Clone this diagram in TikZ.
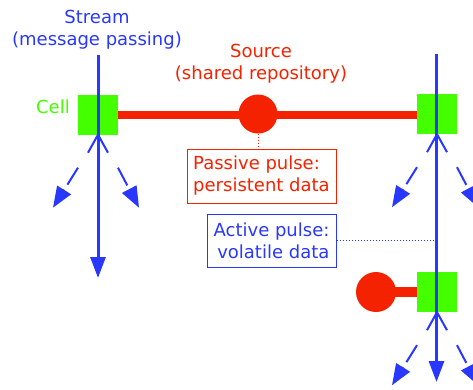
\documentclass[tikz,border=0pt]{standalone}
\usepackage{fontspec}
\setmainfont{DejaVu Sans}
\usetikzlibrary{arrows.meta}
\definecolor{sblue}{RGB}{40,56,255}
\definecolor{sred}{RGB}{245,34,0}
\definecolor{sgreen}{RGB}{68,255,0}
\begin{document}
\begin{tikzpicture}[x=1pt,y=-1pt,
  lbl/.style={font=\fontsize{18}{22}\selectfont, inner sep=0pt, align=center},
  cellbox/.style={fill=sgreen, draw=none, minimum size=40pt, inner sep=0pt},
  pulse/.style={circle, fill=sred, draw=none, minimum size=39pt, inner sep=0pt},
  redbar/.style={draw=sred, line width=8pt},
  stream/.style={draw=sblue, line width=3pt, -{Triangle[length=21pt,width=15pt]}},
  chev/.style={draw=sblue, line width=2pt},
  spread/.style={draw=sblue, line width=2pt, dash pattern=on 20pt off 6pt, -{Triangle[length=21pt,width=16pt]}},
  tagbox/.style={draw, line width=1pt, font=\fontsize{18}{22}\selectfont, inner sep=0pt},
  link/.style={line width=1pt, dash pattern=on 1pt off 2pt}
]
\useasboundingbox (0,0) rectangle (473,389);

% labels
\node[lbl, text=sblue] (streamlbl) at (97,29.5) {Stream\\(message passing)};
\node[lbl, text=sred] (sourcelbl) at (261,63.5) {Source\\(shared repository)};

% cells and pulses
\node[cellbox] (cellL) at (98,114.5) {};
\node[cellbox] (cellR) at (437,114) {};
\node[cellbox] (cellR2) at (437,292) {};
\node[lbl, text=sgreen] (celllbl) at (53,107) {Cell};

\node[pulse] (srcC) at (258,114) {};
\node[pulse, minimum size=40pt] (pulseC) at (376,292) {};

\draw[redbar] (cellL.east) -- (cellL.east -| cellR.west);
\draw[redbar, line width=10pt] (pulseC.center) -- (cellR2.west);

% tag boxes
\node[tagbox, draw=sred, text=sred, align=left, minimum width=149pt, minimum height=54pt] (passive) at (261.5,176) {Passive pulse:\\persistent data};
\node[tagbox, draw=sblue, text=sblue, align=right, minimum width=129pt, minimum height=53pt] (active) at (271.5,240.5) {Active pulse:\\volatile data};

% streams
\coordinate (tL) at (98,55);
\coordinate (bL) at (98,278);
\coordinate (tR) at (436.5,54);
\coordinate (bR) at (436.5,382);
\draw[stream] (tL) -- (bL);
\draw[stream] (tR) -- (bR);

\draw[sred, link] (srcC.south) -- (srcC.south |- passive.north);
\draw[sblue, link] (active.east) -- (active.east -| tR);

% chevrons and spreading arrows
\foreach \c in {cellL,cellR,cellR2}{
  \draw[chev] ([shift={(-10,18)}]\c.south) -- (\c.south) -- ([shift={(10,18)}]\c.south);
  \draw[spread] ([shift={(-20,33)}]\c.south) -- ([shift={(-45,73)}]\c.south);
  \draw[spread] ([shift={(20,33)}]\c.south) -- ([shift={(41,73)}]\c.south);
}
\end{tikzpicture}
\end{document}
